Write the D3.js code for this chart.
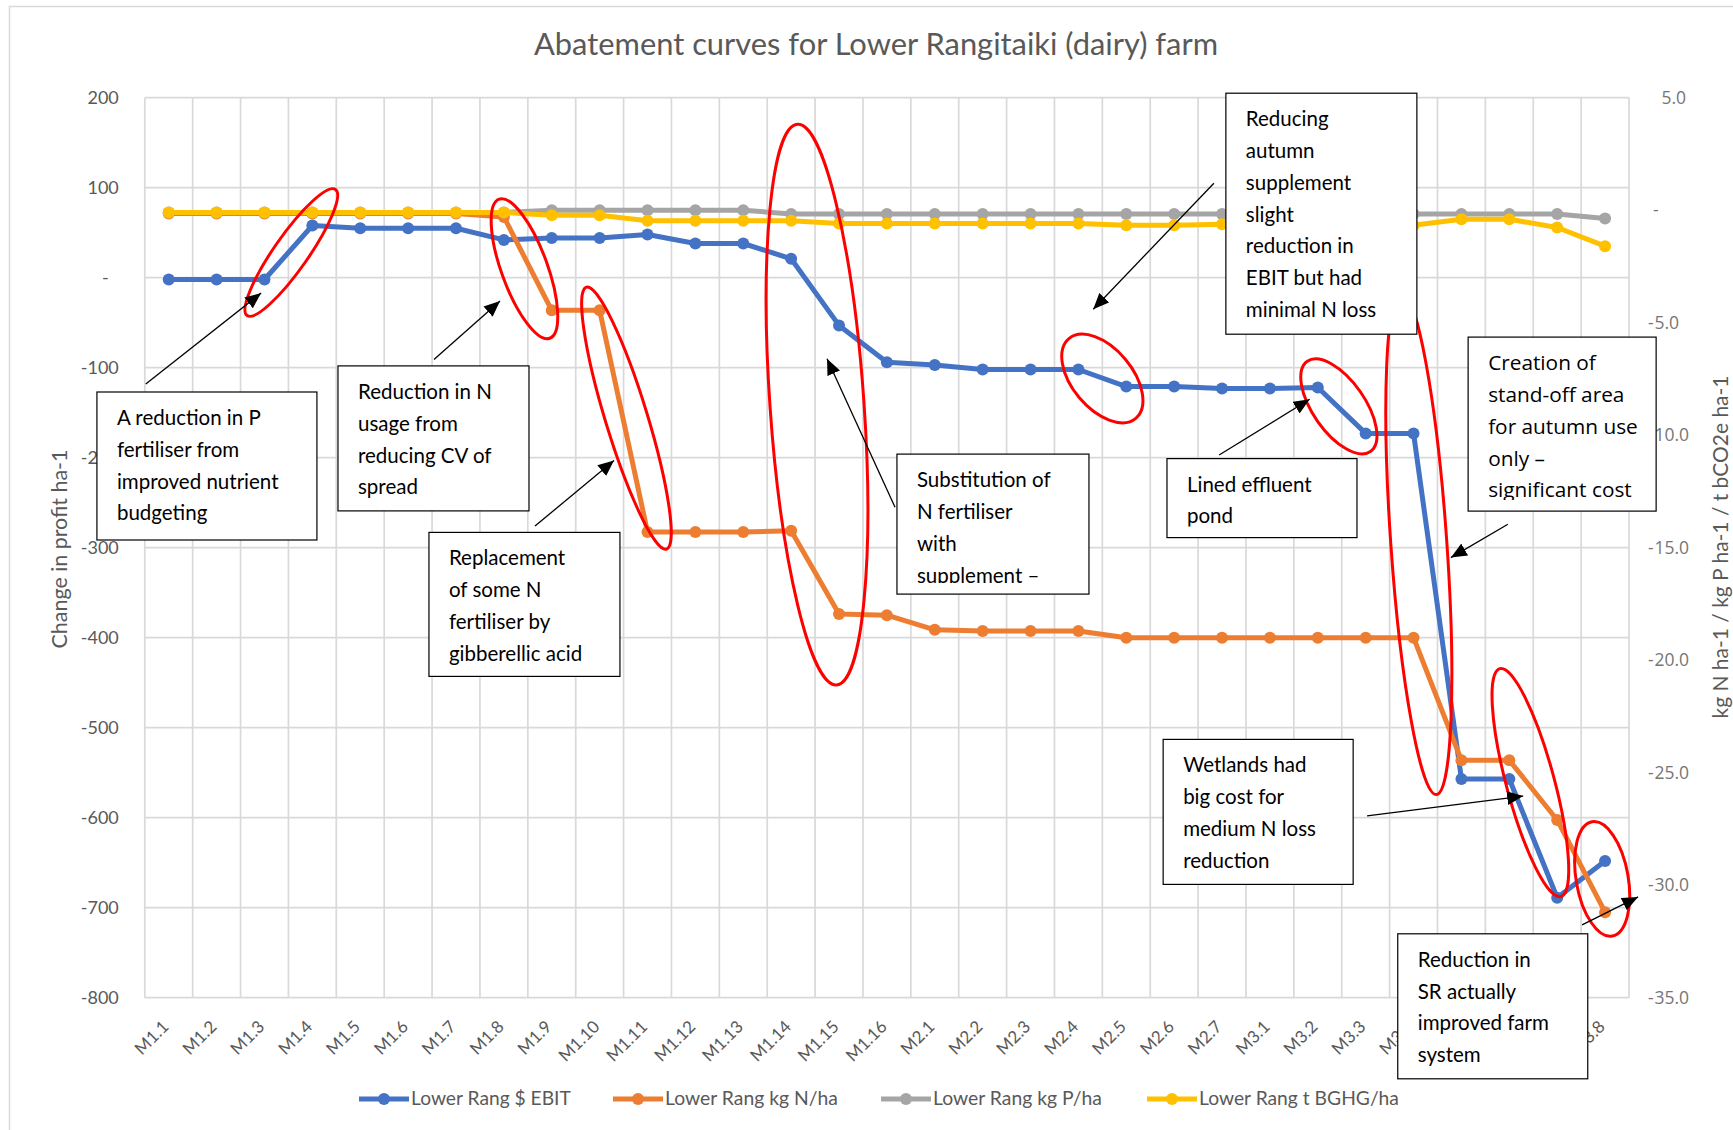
<!DOCTYPE html>
<html lang="en">
<head>
<meta charset="utf-8">
<title>Abatement curves for Lower Rangitaiki (dairy) farm</title>
<script src="https://d3js.org/d3.v7.min.js"></script>
<style>
  body { margin: 0; background: #fff; }
  svg { display: block; }
</style>
</head>
<body>
<script>

// ---- data ----
const categories = [
  "M1.1","M1.2","M1.3","M1.4","M1.5","M1.6","M1.7","M1.8","M1.9","M1.10","M1.11","M1.12","M1.13","M1.14","M1.15","M1.16",
  "M2.1","M2.2","M2.3","M2.4","M2.5","M2.6","M2.7",
  "M3.1","M3.2","M3.3","M3.4","M3.5","M3.6","M3.7","M3.8"
];

// $ EBIT change, left axis
const ebit = [-2,-2,-2,58,55,55,55,42,44,44,48,38,38,21,-53,-94,
  -97,-102,-102,-102,-121,-121,-123,
  -123,-122,-173,-173,-557,-557,-689,-648];

// kg N/ha, right axis
const nLoss = [-0.15,-0.15,-0.15,-0.15,-0.15,-0.15,-0.15,-0.3,-4.45,-4.45,-14.3,-14.3,-14.3,-14.25,-17.95,-18.0,
  -18.65,-18.7,-18.7,-18.7,-19.0,-19.0,-19.0,
  -19.0,-19.0,-19.0,-19.0,-24.45,-24.45,-27.1,-31.2];

// kg P/ha, right axis
const pLoss = [-0.1,-0.1,-0.1,-0.1,-0.1,-0.1,-0.1,-0.1,0,0,0,0,0,-0.17,-0.17,-0.17,
  -0.17,-0.17,-0.17,-0.17,-0.17,-0.17,-0.17,
  -0.17,-0.17,-0.17,-0.17,-0.17,-0.17,-0.17,-0.37];

// t BGHG/ha, right axis
const ghg = [-0.1,-0.1,-0.1,-0.1,-0.1,-0.1,-0.1,-0.1,-0.22,-0.22,-0.47,-0.47,-0.47,-0.47,-0.59,-0.59,
  -0.59,-0.59,-0.59,-0.59,-0.67,-0.67,-0.62,
  -0.65,-0.65,-0.65,-0.67,-0.4,-0.4,-0.77,-1.6];

const leftTicks = [200,100,0,-100,-200,-300,-400,-500,-600,-700,-800];
const rightTicks = [5,0,-5,-10,-15,-20,-25,-30,-35];

const seriesNames = ["Lower Rang $ EBIT","Lower Rang kg N/ha","Lower Rang kg P/ha","Lower Rang t BGHG/ha"];
const seriesColors = ["#4472C4","#ED7D31","#A5A5A5","#FFC000"];

// call-outs drawn over the chart, placed by category index (i) and left-axis value (v)
const ellipses = [
  {i: 2.56, v: 28, rx: 77, ry: 17, a: -55},
  {i: 7.43, v: 10, rx: 74, ry: 23, a: 70},
  {i: 9.56, v: -156, rx: 137, ry: 21, a: 73},
  {i: 13.54, v: -141, rx: 281, ry: 47, a: 86},
  {i: 19.5, v: -112, rx: 52, ry: 30, a: 50},
  {i: 24.44, v: -143, rx: 55, ry: 26, a: 55},
  {i: 26.11, v: -295, rx: 252, ry: 28, a: 86},
  {i: 28.44, v: -561, rx: 118, ry: 24, a: 75},
  {i: 29.94, v: -668, rx: 58, ry: 26, a: 80}
];

const arrows = [
  {i0: -0.48, v0: -118, i1: 1.93, v1: -17},
  {i0: 5.54, v0: -91, i1: 6.92, v1: -26},
  {i0: 7.65, v0: -276, i1: 9.3, v1: -203},
  {i0: 15.17, v0: -255, i1: 13.75, v1: -90},
  {i0: 21.83, v0: 105, i1: 19.31, v1: -35},
  {i0: 21.94, v0: -197, i1: 23.83, v1: -135},
  {i0: 27.97, v0: -274, i1: 26.78, v1: -311},
  {i0: 25.03, v0: -598, i1: 28.29, v1: -576},
  {i0: 29.52, v0: -719, i1: 30.69, v1: -688}
];

const notes = [
  {i: -1.5, v: -127, w: 220, h: 148, lines: ["A reduction in P","fertiliser from","improved nutrient","budgeting"]},
  {i: 3.535, v: -98, w: 191, h: 145, lines: ["Reduction in N","usage from","reducing CV of","spread"]},
  {i: 5.435, v: -283, w: 191, h: 144, lines: ["Replacement","of some N","fertiliser by","gibberellic acid"]},
  {i: 15.21, v: -196, w: 192, h: 140, lines: ["Substitution of","N fertiliser","with","supplement \u2013"]},
  {i: 22.08, v: 205, w: 191, h: 241, lines: ["Reducing","autumn","supplement","slight","reduction in","EBIT but had","minimal N loss"]},
  {i: 20.85, v: -201, w: 190, h: 79, lines: ["Lined effluent","pond"]},
  {i: 27.14, v: -66, w: 188, h: 174, lines: ["Creation of","stand-off area","for autumn use","only \u2013","significant cost"], wide: true},
  {i: 20.77, v: -513, w: 190, h: 145, lines: ["Wetlands had","big cost for","medium N loss","reduction"]},
  {i: 25.67, v: -729, w: 190, h: 145, lines: ["Reduction in","SR actually","improved farm","system"]}
];

// ---- setup ----
const width = 1733, height = 1130;
const FONT = "Lato, 'Open Sans', sans-serif";
const GREY = "#595959";
const margin = {left: 144.8, right: 1629, top: 97.7, bottom: 997.7};

const svg = d3.select("body").append("svg")
  .attr("width", width)
  .attr("height", height);

svg.append("defs").append("marker")
  .attr("id", "head")
  .attr("markerUnits", "userSpaceOnUse")
  .attr("viewBox", "0 0 14 12")
  .attr("refX", 14).attr("refY", 6)
  .attr("markerWidth", 16).attr("markerHeight", 14)
  .attr("orient", "auto")
  .append("path").attr("d", "M0,0 L14,6 L0,12 Z").attr("fill", "#000");

// chart border
svg.append("rect")
  .attr("x", 9.5).attr("y", 6.5)
  .attr("width", 1760).attr("height", 1160)
  .attr("fill", "#fff").attr("stroke", "#d9d9d9").attr("stroke-width", 1.5);

const x = d3.scaleBand().domain(categories).range([margin.left, margin.right]);
const yL = d3.scaleLinear().domain([-800, 200]).range([margin.bottom, margin.top]);
const yR = d3.scaleLinear().domain([-35, 5]).range([margin.bottom, margin.top]);
const cx = d => x(d) + x.bandwidth() / 2;
const xi = i => margin.left + x.step() * (i + 0.5);

// title
const title = svg.append("text")
  .attr("x", 876).attr("y", 55)
  .attr("text-anchor", "middle")
  .attr("font-family", FONT).attr("font-size", 26)
  .attr("fill", GREY)
  .text("Abatement curves for Lower Rangitaiki (dairy) farm");
fitWidth(title, 684);

// grid
const grid = svg.append("g").attr("stroke", "#d9d9d9").attr("stroke-width", 1.7);
grid.selectAll("line.h").data(leftTicks).join("line")
  .attr("x1", margin.left).attr("x2", margin.right)
  .attr("y1", d => yL(d)).attr("y2", d => yL(d));
grid.selectAll("line.v").data(d3.range(categories.length + 1)).join("line")
  .attr("x1", d => margin.left + d * x.step()).attr("x2", d => margin.left + d * x.step())
  .attr("y1", margin.top).attr("y2", margin.bottom);

// left axis
const gL = svg.append("g")
  .attr("transform", `translate(${margin.left},0)`)
  .call(d3.axisLeft(yL).tickValues(leftTicks).tickSize(0).tickPadding(26)
    .tickFormat(d => d === 0 ? "-" : String(d)));
gL.select(".domain").remove();
gL.selectAll("text")
  .attr("font-family", FONT).attr("font-size", 18).attr("fill", GREY)
  .attr("dx", d => d === 0 ? -10 : 0);

// right axis (accounting style: minus sign at the left, number after it)
const gR = svg.append("g")
  .attr("transform", `translate(${margin.right},0)`)
  .call(d3.axisRight(yR).tickValues(rightTicks).tickSize(0).tickPadding(19).tickFormat(""));
gR.select(".domain").remove();
gR.selectAll(".tick text").each(function(d) {
  const t = d3.select(this)
    .attr("font-family", "'Open Sans', sans-serif").attr("font-size", 17.5).attr("fill", "#767676");
  if (d === 0) {
    t.append("tspan").attr("x", 24).text("-");
  } else if (d > 0) {
    t.append("tspan").attr("x", 32.5).text(d.toFixed(1));
  } else {
    t.append("tspan").attr("x", 19).text("-");
    t.append("tspan").attr("x", 25.5).text(Math.abs(d).toFixed(1));
  }
});

// x axis labels
svg.append("g").selectAll("text").data(categories).join("text")
  .attr("transform", d => `translate(${cx(d) + 1},${margin.bottom + 30}) rotate(-45)`)
  .attr("text-anchor", "end")
  .attr("font-family", FONT).attr("font-size", 17).attr("fill", GREY)
  .text(d => d);

// axis titles
const tL = svg.append("text")
  .attr("transform", `translate(67,549) rotate(-90)`)
  .attr("text-anchor", "middle")
  .attr("font-family", FONT).attr("font-size", 18).attr("fill", GREY)
  .text("Change in profit ha-1");
fitWidth(tL, 199);
const tR = svg.append("text")
  .attr("transform", `translate(1728,547) rotate(-90)`)
  .attr("text-anchor", "middle")
  .attr("font-family", FONT).attr("font-size", 18).attr("fill", GREY)
  .text("kg N ha-1 / kg P ha-1 / t bCO2e ha-1");
fitWidth(tR, 343);

// series
const series = [
  {values: ebit, y: yL},
  {values: nLoss, y: yR},
  {values: pLoss, y: yR},
  {values: ghg, y: yR}
];
series.forEach((s, k) => {
  const pts = categories.map((c, j) => [cx(c), s.y(s.values[j])]);
  const g = svg.append("g");
  g.append("path")
    .attr("d", d3.line()(pts))
    .attr("fill", "none")
    .attr("stroke", seriesColors[k])
    .attr("stroke-width", 5)
    .attr("stroke-linejoin", "round");
  g.selectAll("circle").data(pts).join("circle")
    .attr("cx", d => d[0]).attr("cy", d => d[1]).attr("r", 6)
    .attr("fill", seriesColors[k]);
});

// legend
const legendX = [359, 613, 881, 1147];
const legendW = [160, 173, 169, 200];
const legendY = 1099;
seriesNames.forEach((name, k) => {
  const g = svg.append("g");
  g.append("line")
    .attr("x1", legendX[k]).attr("x2", legendX[k] + 50)
    .attr("y1", legendY).attr("y2", legendY)
    .attr("stroke", seriesColors[k]).attr("stroke-width", 5);
  g.append("circle").attr("cx", legendX[k] + 25).attr("cy", legendY).attr("r", 6)
    .attr("fill", seriesColors[k]);
  const t = g.append("text")
    .attr("x", legendX[k] + 52).attr("y", legendY + 6)
    .attr("font-family", FONT).attr("font-size", 17).attr("fill", GREY)
    .text(name);
  fitWidth(t, legendW[k]);
});

// red ellipses
svg.append("g").selectAll("ellipse").data(ellipses).join("ellipse")
  .attr("transform", d => `translate(${xi(d.i)},${yL(d.v)}) rotate(${d.a})`)
  .attr("rx", d => d.rx).attr("ry", d => d.ry)
  .attr("fill", "none").attr("stroke", "#ff0000").attr("stroke-width", 3);

// arrows
svg.append("g").selectAll("line").data(arrows).join("line")
  .attr("x1", d => xi(d.i0)).attr("y1", d => yL(d.v0))
  .attr("x2", d => xi(d.i1)).attr("y2", d => yL(d.v1))
  .attr("stroke", "#000").attr("stroke-width", 1.3)
  .attr("marker-end", "url(#head)");

// text boxes
notes.forEach((n, k) => {
  const bx = xi(n.i), by = yL(n.v);
  const g = svg.append("g");
  g.append("clipPath").attr("id", "clip" + k)
    .append("rect").attr("x", bx).attr("y", by).attr("width", n.w).attr("height", n.h - 11);
  g.append("rect")
    .attr("x", bx).attr("y", by).attr("width", n.w).attr("height", n.h)
    .attr("fill", "#fff").attr("stroke", "#000").attr("stroke-width", 1.2);
  g.append("g").attr("clip-path", `url(#clip${k})`)
    .selectAll("text").data(n.lines).join("text")
    .attr("x", bx + 20)
    .attr("y", (d, j) => by + 33 + j * 31.8)
    .attr("font-family", n.wide ? "'Open Sans', sans-serif" : FONT)
    .attr("font-size", n.wide ? 20.8 : 20.5)
    .attr("fill", "#000")
    .text(d => d);
});

function fitWidth(sel, target) {
  const w = sel.node().getComputedTextLength();
  const fs = parseFloat(sel.attr("font-size"));
  if (w > 0) sel.attr("font-size", (fs * target / w).toFixed(2));
}

</script>
</body>
</html>
